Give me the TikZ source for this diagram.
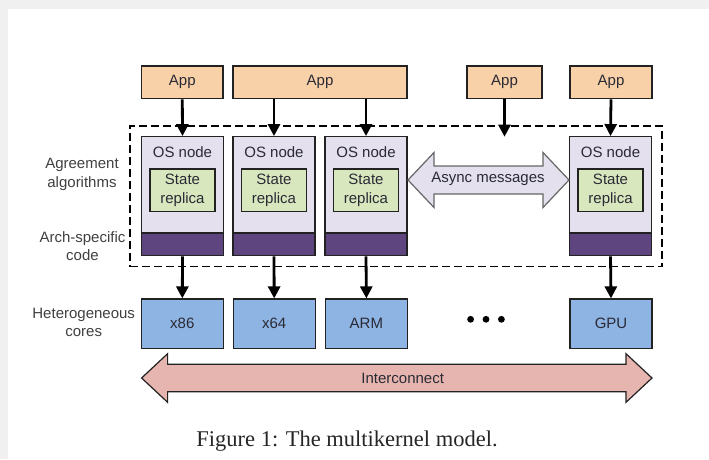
\documentclass[tikz,border=0pt]{standalone}
\usepackage{fontspec}
\setmainfont{Liberation Sans}
\newfontfamily\capfont{Liberation Serif}
\usetikzlibrary{arrows.meta}
\definecolor{pagegray}{HTML}{F0F0F0}
\definecolor{appfill}{HTML}{F9D1A8}
\definecolor{osfill}{HTML}{E4E0EE}
\definecolor{replfill}{HTML}{D9E7BF}
\definecolor{archfill}{HTML}{5E4580}
\definecolor{corefill}{HTML}{8EB4E3}
\definecolor{netfill}{HTML}{E7B5B0}
\definecolor{boxline}{HTML}{222222}
\definecolor{textdark}{HTML}{2A2A35}
\definecolor{labeltext}{HTML}{404040}
\begin{document}
\begin{tikzpicture}[x=1pt,y=-1pt,
  font=\fontsize{15}{18.3}\selectfont,
  box/.style={draw=boxline, line width=1.3pt, inner sep=0pt, minimum width=82pt, text=textdark},
  appbox/.style={box, fill=appfill, minimum height=32.7pt},
  osbox/.style={box, fill=osfill, minimum height=119pt},
  archband/.style={box, fill=archfill, minimum height=22.7pt, anchor=south},
  replbox/.style={box, fill=replfill, minimum width=65pt, minimum height=42.7pt, align=center},
  corebox/.style={box, fill=corefill, minimum height=49.3pt},
  sidelabel/.style={text=labeltext, align=center, inner sep=0pt},
  flow/.style={line width=2.8pt, draw=black, -{Triangle[length=12pt,width=12pt]}},
  bigarrow/.style={line width=1.2pt, line join=miter},
  kernelzone/.style={draw=black, line width=1.3pt, dash pattern=on 8pt off 4pt, minimum width=532pt, minimum height=140.7pt, inner sep=0pt}
]
% page background with grey strip along top and left edges
\fill[white] (0,0) rectangle (709,459);
\fill[pagegray] (0,0) rectangle (709,9);
\fill[pagegray] (0,0) rectangle (8,459);
\useasboundingbox (0,0) rectangle (709,459);

% dashed zone around the OS nodes
\node[kernelzone] (zone) at (396,196.35) {};

% applications
\node[appbox, minimum width=81.4pt] (app1) at (182.3,82.3) {App};
\node[appbox, minimum width=174pt] (app2) at (320,82.3) {App};
\node[appbox, minimum width=75pt] (app3) at (504.5,82.3) {App};
\node[appbox, minimum width=82pt] (app4) at (611,82.3) {App};

% OS nodes with state replica and arch-specific band
\foreach \n/\x in {1/182.5, 2/274, 3/366, 4/610.5} {
  \node[osbox] (os\n) at (\x,196.2) {};
  \node[archband] (arch\n) at (os\n.south) {};
  \node[text=textdark, inner sep=0pt] (osl\n) at (\x,151.7) {OS node};
  \node[replbox] (rep\n) at (\x,190.3) {State\\replica};
}

% cores
\node[corebox] (c86) at (182.3,323.7) {x86};
\node[corebox] (c64) at (274.2,323.7) {x64};
\node[corebox] (carm) at (366.4,323.7) {ARM};
\node[corebox] (cgpu) at (611,323.7) {GPU};
\foreach \x in {470.6,486,501.4} \fill[black] (\x,319.3) circle (3.4pt);

% application to OS node arrows
\coordinate (inzone) at (504.5,136.7);
\draw[flow] (app1.south) -- (os1.north);
\draw[flow] (app2.south -| os2.north) -- (os2.north);
\draw[flow] (app2.south -| os3.north) -- (os3.north);
\draw[flow] (app3.south) -- (inzone);
\draw[flow] (app4.south) -- (os4.north);

% OS node to core arrows
\draw[flow] (os1.south) -- (c86.north);
\draw[flow] (os2.south) -- (c64.north);
\draw[flow] (os3.south) -- (carm.north);
\draw[flow] (os4.south) -- (cgpu.north);

% async messages double arrow
\draw[bigarrow, draw=black!60, fill=osfill]
  (408,180) -- (434,152.5) -- (434,166) -- (543,166) -- (543,152.5) -- (569,180)
  -- (543,207.5) -- (543,194) -- (434,194) -- (434,207.5) -- cycle;
\node[text=textdark, inner sep=0pt] (async) at (488,179) {Async messages};

% interconnect double arrow
\draw[bigarrow, draw=boxline, fill=netfill]
  (141.6,378) -- (167.6,353.7) -- (167.6,364.3) -- (626,364.3) -- (626,353.7) -- (652,378)
  -- (626,402.3) -- (626,391.7) -- (167.6,391.7) -- (167.6,402.3) -- cycle;
\node[text=textdark, inner sep=0pt] (net) at (402.7,378) {Interconnect};

% side labels
\node[sidelabel] (agree) at (82,174.5) {Agreement\\algorithms};
\node[sidelabel] (archl) at (82.5,246) {Arch-specific\\code};
\node[sidelabel] (hetero) at (83.7,322.5) {Heterogeneous\\cores};

% caption
\node[inner sep=0pt, font=\capfont\fontsize{22.5}{26}\selectfont, text=black!85] (caption) at (347,441) {Figure 1: The multikernel model.};
\end{tikzpicture}
\end{document}
